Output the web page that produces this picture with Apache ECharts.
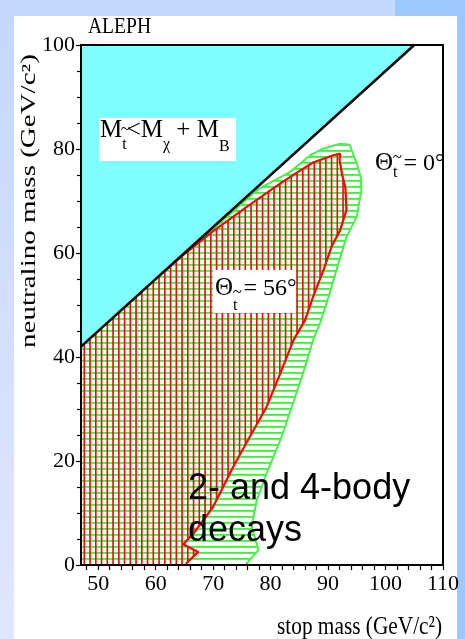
<!DOCTYPE html>
<html>
<head>
<meta charset="utf-8">
<script src="https://cdn.jsdelivr.net/npm/echarts@6/dist/echarts.min.js"></script>
<style>
  html, body { margin:0; padding:0; }
  body { width:465px; height:639px; position:relative; overflow:hidden; background:#9cc8fc; }
  #bgTop { position:absolute; left:0; top:0; width:395px; height:16px; background:#c4d8fc; }
  #bgLeft { position:absolute; left:0; top:0; width:14px; height:639px; background:linear-gradient(#c4d8fc, #e2e6fc); }
  #panel { position:absolute; left:14px; top:16px; width:443px; height:623px; background:#ffffff; }
  #chart { position:absolute; left:0; top:0; width:465px; height:639px; }
</style>
</head>
<body>
<div id="bgTop"></div><div id="bgLeft"></div><div id="panel"></div>
<div id="chart"></div>
<script>
// ---------------- data ----------------
const xRange = [47, 110];
const yRange = [0, 100];
const xTickLabels = [50, 60, 70, 80, 90, 100, 110];
const xTickMarks = [48,50,52,54,56,58,60,62,64,66,68,70,72,74,76,78,80,82,84,86,88,90,92,94,96,98,100,102,104,106,108,110];
const yTickInterval = 20;

// kinematically forbidden region  (M_stop < M_chi + M_B)
const forbiddenRegion = [[47, 42], [47, 100], [105, 100]];
const kinematicLine = [[47, 42], [105, 100]];

// excluded region, mixing angle 0 deg (green)
const region0deg = [[47,0],[47,42],[60,55],[70,64.6],[78,72.4],[83.4,75.6],[86.9,78.8],[89.2,80.1],[92.1,81.0],[93.8,80.8],[94.1,79.8],[95.0,77.2],[95.7,74.5],[95.8,72.1],[95.0,67.0],[93.2,63.1],[91.8,58.0],[90.1,51.6],[88.6,46.5],[87.4,43.3],[86.0,38.1],[84.3,32.4],[81.7,24.0],[79.3,17.6],[77.6,12.5],[76.7,7.4],[77.9,2.9],[75.6,0]];

// excluded region, mixing angle 56 deg (red)
const region56deg = [[47,0],[47,42],[60,55],[64.3,59.2],[70,64.2],[75.9,68.9],[81.7,73.4],[84.5,75.4],[87.4,77.4],[90.9,78.8],[92.1,79.1],[92.0,77.9],[92.4,75.3],[93.0,72.6],[93.2,68.3],[92.1,64.4],[90.6,61.2],[89.2,56.7],[87.4,51.6],[86.0,47.1],[84.0,43.3],[81.7,36.9],[79.3,30.4],[76.4,24.7],[73.5,18.9],[70.0,11.2],[66.6,6.1],[64.8,4.0],[67.4,2.5],[65.4,0.4],[65.3,0]];

// ---------------- styles ----------------
function hatch(w, h, draw) {
  const c = document.createElement('canvas');
  c.width = w; c.height = h;
  draw(c.getContext('2d'));
  return { image: c, repeat: 'repeat' };
}
const redHatch = hatch(23, 4, g => {
  g.fillStyle = '#ff0000';
  for (let k = 0; k < 4; k++) g.fillRect(3 + 5.75 * k, 0, 1.6, 4);
});
const greenHatch = hatch(4, 6, g => {
  g.fillStyle = '#3cf03c';
  g.fillRect(0, 0, 4, 1.8);
});

function polygonSeries(name, pts, fill, z) {
  return {
    name, type: 'custom', coordinateSystem: 'cartesian2d',
    xAxisIndex: 0, yAxisIndex: 0, z, silent: true, animation: false,
    data: [pts[0]], encode: { x: 0, y: 1 },
    renderItem: (params, api) => ({
      type: 'polygon',
      shape: { points: pts.map(p => api.coord(p)) },
      style: { fill, stroke: null }
    })
  };
}
function lineSeries(name, pts, color, width, z) {
  return {
    name, type: 'line', data: pts, xAxisIndex: 0, yAxisIndex: 0,
    showSymbol: false, symbol: 'none', silent: true, animation: false, z,
    lineStyle: { color, width }
  };
}

// ---------------- text layout helpers ----------------
const meas = document.createElement('canvas').getContext('2d');
function textRun(x0, base, pieces, sx, family) {
  const els = [];
  let x = x0, lastX = x0, lastW = 0;
  for (const p of pieces) {
    const fam = p.f || family || 'Liberation Serif';
    const font = `${p.s}px "${fam}"`;
    meas.font = font;
    const w = meas.measureText(p.t).width * sx;
    const mid = (fam.indexOf('Sans') >= 0 ? 0.35 : 0.34) * p.s;
    let px = x;
    if (p.over) px = lastX + lastW / 2 - w / 2 + (p.dx || 0);
    els.push({
      type: 'text', x: px, y: base + (p.dy || 0) - mid, scaleX: sx, silent: true, z: 100,
      style: { text: p.t, font, fill: '#000', textAlign: 'left', textVerticalAlign: 'middle' }
    });
    if (!p.over) { lastX = x; lastW = w; x += w; }
  }
  return els;
}

const graphics = [];
// ALEPH
graphics.push(...textRun(88, 35, [{ t: 'ALEPH', s: 23 }], 0.85));
// forbidden label
graphics.push({ type: 'rect', shape: { x: 99, y: 118, width: 137, height: 43 }, style: { fill: '#fff' }, z: 99, silent: true });
graphics.push(...textRun(100, 138.5, [
  { t: 'M', s: 25 }, { t: 't', s: 16, dy: 12 }, { t: '~', s: 17, dy: -3, over: true, dx: 1 },
  { t: '<', s: 25 }, { t: 'M', s: 25 }, { t: 'χ', s: 16, dy: 12 },
  { t: ' + ', s: 25 }, { t: 'M', s: 25 }, { t: 'B', s: 16, dy: 14 }
], 1));
// theta = 0
graphics.push(...textRun(375, 172, [
  { t: 'Θ', s: 25 }, { t: 't', s: 16, dy: 6 }, { t: '~', s: 17, dy: -9, over: true, dx: 2 },
  { t: ' = 0°', s: 24 }
], 1));
// theta = 56
graphics.push({ type: 'rect', shape: { x: 213, y: 270, width: 83, height: 43 }, style: { fill: '#fff' }, z: 99, silent: true });
graphics.push(...textRun(215, 297, [
  { t: 'Θ', s: 25 }, { t: 't', s: 16, dy: 14 }, { t: '~', s: 17, dy: 1, over: true, dx: 2 },
  { t: ' = 56°', s: 24 }
], 1));
// decay label
graphics.push(...textRun(188, 502, [{ t: '2- and 4-body', s: 36 }], 1, 'Liberation Sans'));
graphics.push(...textRun(188, 544, [{ t: 'decays', s: 36 }], 1, 'Liberation Sans'));
// axis titles
graphics.push(...textRun(277, 636, [{ t: 'stop mass (GeV/c²)', s: 26 }], 0.82));
graphics.push({
  type: 'text', x: 30, y: 201, rotation: Math.PI / 2, scaleX: 1.45, silent: true, z: 100,
  style: { text: 'neutralino mass (GeV/c²)', font: '20px "Liberation Serif"', fill: '#000', textAlign: 'center', textVerticalAlign: 'middle' }
});

// ---------------- chart ----------------
const axisFont = { fontFamily: 'Liberation Serif', fontSize: 22, color: '#000' };
const chart = echarts.init(document.getElementById('chart'), null, { renderer: 'canvas' });
chart.setOption({
  backgroundColor: 'transparent',
  animation: false,
  grid: { left: 81, right: 22, top: 45, bottom: 74, containLabel: false, outerBoundsMode: 'none', show: false },
  xAxis: [
    {
      type: 'value', min: xRange[0], max: xRange[1], position: 'bottom', z: 10,
      axisLine: { show: true, onZero: false, lineStyle: { color: '#000', width: 2 } },
      axisTick: { show: true, customValues: xTickMarks, length: 5, lineStyle: { color: '#000', width: 1.2 } },
      axisLabel: Object.assign({ customValues: xTickLabels, margin: 8, showMinLabel: true, showMaxLabel: true }, axisFont),
      splitLine: { show: false }
    },
    {
      type: 'value', min: xRange[0], max: xRange[1], position: 'top', z: 10,
      axisLine: { show: true, onZero: false, lineStyle: { color: '#000', width: 2 } },
      axisTick: { show: false }, axisLabel: { show: false }, splitLine: { show: false }
    }
  ],
  yAxis: [
    {
      type: 'value', min: yRange[0], max: yRange[1], interval: yTickInterval, position: 'left', z: 10,
      axisLine: { show: true, onZero: false, lineStyle: { color: '#000', width: 2 } },
      axisTick: { show: true, length: 5, lineStyle: { color: '#000', width: 1.2 } },
      minorTick: { show: true, splitNumber: 4, length: 4, lineStyle: { color: '#000', width: 1.2 } },
      axisLabel: Object.assign({ margin: 6 }, axisFont),
      splitLine: { show: false }, minorSplitLine: { show: false }
    },
    {
      type: 'value', min: yRange[0], max: yRange[1], position: 'right', z: 10,
      axisLine: { show: true, onZero: false, lineStyle: { color: '#000', width: 2 } },
      axisTick: { show: false }, axisLabel: { show: false }, splitLine: { show: false }
    }
  ],
  series: [
    polygonSeries('0 deg region', region0deg, greenHatch, 1),
    polygonSeries('56 deg region', region56deg, redHatch, 2),
    polygonSeries('forbidden', forbiddenRegion, '#80ffff', 3),
    lineSeries('0 deg contour', region0deg.slice(1), '#4cee4c', 2, 4),
    lineSeries('56 deg contour', region56deg.slice(2), '#ff0000', 2.2, 5),
    lineSeries('kinematic limit', kinematicLine, '#000', 2.5, 6)
  ],
  graphic: { elements: graphics }
});
</script>
</body>
</html>
